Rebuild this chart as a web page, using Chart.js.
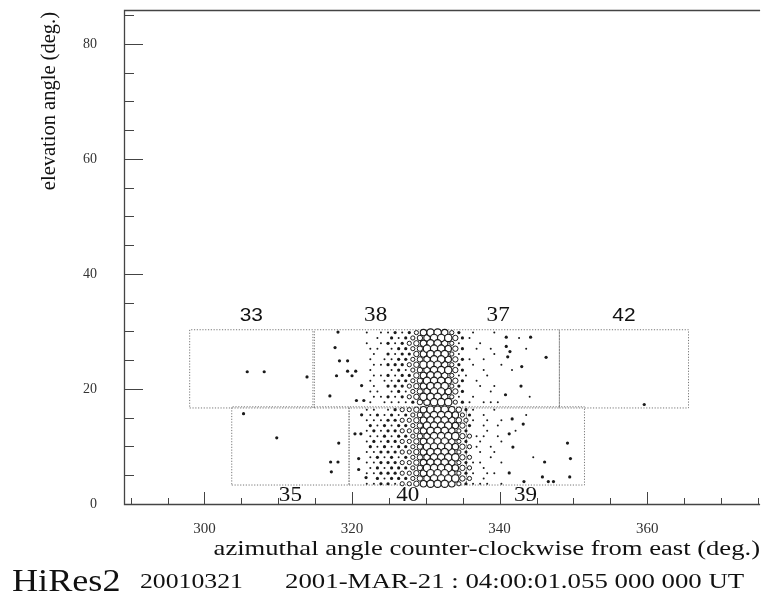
<!DOCTYPE html>
<html>
<head>
<meta charset="utf-8">
<script src="https://cdn.jsdelivr.net/npm/chart.js@4.4.1/dist/chart.umd.min.js"></script>
<style>
  body { margin: 0; background: #fff; }
</style>
</head>
<body>
<canvas id="chart" width="765" height="598"></canvas>
<script>
// tube columns (azimuth, deg); odd rows sit half a column to the right
var colAz = [322.00, 322.96, 323.92, 324.88, 325.84, 326.80, 327.76, 328.72,
             329.68, 330.64, 331.60, 332.56, 333.52, 334.48, 335.44, 336.40,
             337.36, 338.32, 339.28, 340.24, 341.20, 342.16, 343.12, 344.08];

// upper ring (mirrors 33 38 37 42): row elevation, row offset, tube signal 0-6
var upperEl = [29.8, 28.87, 27.94, 27.01, 26.08, 25.15, 24.22, 23.29, 22.36, 21.43, 20.5, 19.57, 18.64, 17.71];
var upperShift = [0, 0.48, 0, 0.48, 0, 0.48, 0, 0.48, 0, 0.48, 0, 0.48, 0, 0.48];
var upperHits = [
  "101121235665320100100000",
  "010212345666421000000100",
  "101212345665310010000000",
  "110122346665420101000010",
  "010212245666310000100000",
  "101122345665421010000000",
  "011222346665320100010000",
  "100121345666420010001000",
  "011212245665311001000000",
  "101122346665420100000000",
  "010222345666320010100000",
  "110121345665420001000000",
  "011212346665310100000001",
  "101111245666321011100000"
];

// lower ring (mirrors 35 40 39)
var lowerEl = [16.4, 15.48, 14.56, 13.64, 12.72, 11.8, 10.88, 9.96, 9.04, 8.12, 7.2, 6.28, 5.36, 4.44, 3.52];
var lowerShift = [0, 0.48, 0, 0.48, 0, 0.48, 0, 0.48, 0, 0.48, 0, 0.48, 0, 0.48, 0];
var lowerHits = [
  "110123345666542100100000",
  "121212345666532010000010",
  "111223345666543101010000",
  "212122346666542010100000",
  "121223345666532001000100",
  "112122345666643110100000",
  "121223345666532010010000",
  "212122346666543101000000",
  "112223345666532010100000",
  "121212345666643001000001",
  "112223345666532110010000",
  "121222346666543010000000",
  "112223345666532101100000",
  "021222345666643010000000",
  "112213345666532111010000"
];

// isolated noise tubes away from the track
var strayAz = [305.8, 308.1, 313.9, 317.7, 318.3, 319.4, 317.9, 319.4, 320.5, 320.0, 317.0, 318.1, 320.6, 321.6, 321.3,
               340.9, 344.2, 340.9, 341.4, 346.3, 341.1, 343.0, 342.9, 340.8, 359.6,
               305.3, 309.8, 318.2, 317.1, 318.1, 317.2,
               321.3, 320.4, 321.2, 320.9, 320.9, 321.9,
               341.7, 343.2, 341.3, 341.8, 349.2, 349.6, 346.1, 341.3, 345.8, 343.3, 346.6, 347.3, 349.5];
var strayEl = [23.0, 23.0, 22.1, 27.2, 24.9, 24.9, 22.3, 23.1, 23.1, 22.3, 18.8, 29.9, 18.0, 18.0, 20.6,
               29.0, 29.0, 27.4, 26.5, 25.5, 25.6, 23.9, 20.5, 19.0, 17.3,
               15.7, 11.5, 10.6, 7.3, 7.3, 5.6,
               15.5, 12.2, 12.2, 7.9, 6.0, 4.6,
               14.8, 13.9, 12.2, 9.9, 10.6, 7.9, 7.3, 5.4, 4.7, 3.9, 3.9, 3.9, 4.7];

// mirror fields of view
var mirrorId    = ["33", "38", "37", "42", "35", "40", "39"];
var mirrorAzMin = [298.0, 314.9, 331.5, 348.1, 303.7, 319.6, 335.5];
var mirrorAzMax = [314.7, 331.5, 348.1, 365.6, 319.6, 335.5, 351.5];
var mirrorElMin = [16.7, 16.7, 16.7, 16.7, 3.3, 3.3, 3.3];
var mirrorElMax = [30.3, 30.3, 30.3, 30.3, 16.9, 16.9, 16.9];

var xTicks = [290, 295, 300, 305, 310, 315, 320, 325, 330, 335, 340, 345, 350, 355, 360, 365, 370, 375];
var yTicks = [0, 5, 10, 15, 20, 25, 30, 35, 40, 45, 50, 55, 60, 65, 70, 75, 80, 85];

// point styles for signal levels 1..6
var levelStyle = [
  null,
  { r: 1.0, fill: true,  w: 0 },
  { r: 1.6, fill: true,  w: 0 },
  { r: 2.1, fill: false, w: 1 },
  { r: 2.7, fill: false, w: 1 },
  { r: 3.2, fill: false, w: 1.1 },
  { r: 3.7, fill: false, w: 1.2 }
];

var byLevel = [[], [], [], [], [], [], []];
function addRing(els, shifts, rows) {
  for (var r = 0; r < rows.length; r++) {
    for (var i = 0; i < rows[r].length; i++) {
      var lv = +rows[r][i];
      if (lv > 0) byLevel[lv].push({ x: colAz[i] + shifts[r], y: els[r] });
    }
  }
}
addRing(upperEl, upperShift, upperHits);
addRing(lowerEl, lowerShift, lowerHits);
for (var s = 0; s < strayAz.length; s++) byLevel[2].push({ x: strayAz[s], y: strayEl[s] });

var datasets = [];
for (var lv = 6; lv >= 1; lv--) {
  var st = levelStyle[lv];
  datasets.push({
    type: 'scatter',
    data: byLevel[lv],
    pointRadius: st.r,
    pointHoverRadius: st.r,
    pointBackgroundColor: st.fill ? '#1a1a1a' : 'rgba(255,255,255,0.9)',
    pointBorderColor: '#1a1a1a',
    pointBorderWidth: st.w,
    order: 0
  });
}
for (var m = 0; m < mirrorId.length; m++) {
  datasets.push({
    type: 'line',
    data: [
      { x: mirrorAzMin[m], y: mirrorElMin[m] },
      { x: mirrorAzMax[m], y: mirrorElMin[m] },
      { x: mirrorAzMax[m], y: mirrorElMax[m] },
      { x: mirrorAzMin[m], y: mirrorElMax[m] },
      { x: mirrorAzMin[m], y: mirrorElMin[m] }
    ],
    borderColor: '#777',
    borderWidth: 1,
    borderDash: [1.2, 1.6],
    pointRadius: 0,
    fill: false,
    order: 1
  });
}

var serif = "'Liberation Serif', 'DejaVu Serif', serif";

// text in this display is set a little wider than the font's natural width
function wideText(ctx, text, x, y, font, stretch, align) {
  ctx.save();
  ctx.font = font;
  ctx.translate(x, y);
  ctx.scale(stretch, 1);
  ctx.textAlign = align || 'left';
  ctx.fillText(text, 0, 0);
  ctx.restore();
}

function noPadding(scale) {
  scale.paddingLeft = 0;
  scale.paddingRight = 0;
  scale.paddingTop = 0;
  scale.paddingBottom = 0;
}

var decor = {
  id: 'decor',
  afterDatasetsDraw: function(chart) {
    var ctx = chart.ctx, sx = chart.scales.x, sy = chart.scales.y;
    ctx.save();
    ctx.fillStyle = '#111';
    ctx.textBaseline = 'middle';
    for (var m = 0; m < mirrorId.length; m++) {
      var cx = sx.getPixelForValue((mirrorAzMin[m] + mirrorAzMax[m]) / 2);
      var upper = mirrorElMin[m] > 10;
      var cy = upper ? sy.getPixelForValue(mirrorElMax[m]) - 14 : sy.getPixelForValue(mirrorElMin[m]) + 10;
      var sans = (mirrorId[m] === "33" || mirrorId[m] === "42");
      var font = sans ? "19px 'Liberation Sans', Arial, sans-serif" : "21px " + serif;
      wideText(ctx, mirrorId[m], cx, cy, font, 1.1, 'center');
    }
    ctx.restore();
  },
  afterDraw: function(chart) {
    var ctx = chart.ctx, a = chart.chartArea, sx = chart.scales.x, sy = chart.scales.y;
    ctx.save();
    ctx.strokeStyle = '#444';
    ctx.lineWidth = 1.3;
    ctx.beginPath();
    ctx.moveTo(a.right, a.top + 0.5);
    ctx.lineTo(a.left + 0.5, a.top + 0.5);
    ctx.lineTo(a.left + 0.5, a.bottom + 0.5);
    ctx.lineTo(a.right, a.bottom + 0.5);
    ctx.stroke();
    ctx.lineWidth = 1;
    ctx.beginPath();
    sx.ticks.forEach(function(t) {
      var px = Math.round(sx.getPixelForValue(t.value)) + 0.5;
      var len = t.value % 20 === 0 ? 12 : 6;
      ctx.moveTo(px, a.bottom);
      ctx.lineTo(px, a.bottom - len);
    });
    sy.ticks.forEach(function(t) {
      var py = Math.round(sy.getPixelForValue(t.value)) + 0.5;
      var len = t.value % 20 === 0 ? 19 : 10;
      ctx.moveTo(a.left, py);
      ctx.lineTo(a.left + len, py);
    });
    ctx.stroke();

    // axis titles
    ctx.fillStyle = '#111';
    ctx.textBaseline = 'alphabetic';
    wideText(ctx, "azimuthal angle counter-clockwise from east (deg.)", 760, 555, "22px " + serif, 1.21, 'right');
    ctx.save();
    ctx.translate(55, 12);
    ctx.rotate(-Math.PI / 2);
    ctx.font = "20.5px " + serif;
    ctx.textAlign = 'right';
    ctx.fillText("elevation angle (deg.)", 0, 0);
    ctx.restore();

    // run / time stamp line
    wideText(ctx, "HiRes2", 12, 591, "32px " + serif, 1.13, 'left');
    wideText(ctx, "20010321", 140, 588, "22px " + serif, 1.17, 'left');
    wideText(ctx, "2001-MAR-21 : 04:00:01.055 000 000 UT", 285, 588, "22px " + serif, 1.22, 'left');
    ctx.restore();
  }
};

var canvas = document.getElementById("chart");
var config = {
  type: 'scatter',
  data: { datasets: datasets },
  options: {
    responsive: false,
    animation: false,
    events: [],
    layout: { padding: { left: 0, top: 10, right: 1, bottom: 0 } },
    plugins: { legend: { display: false }, tooltip: { enabled: false } },
    scales: {
      x: {
        type: 'linear',
        min: 289.1,
        max: 375.3,
        grid: { display: false, drawTicks: false },
        border: { display: false },
        afterBuildTicks: function(scale) { scale.ticks = xTicks.map(function(v) { return { value: v }; }); },
        afterFit: function(scale) { scale.height = 94; noPadding(scale); },
        ticks: {
          autoSkip: false,
          maxRotation: 0,
          padding: 16,
          color: '#333',
          font: { family: serif, size: 15 },
          callback: function(v) { return v % 20 === 0 ? String(v) : ''; }
        }
      },
      y: {
        type: 'linear',
        min: 0,
        max: 85.9,
        grid: { display: false, drawTicks: false },
        border: { display: false },
        afterBuildTicks: function(scale) { scale.ticks = yTicks.map(function(v) { return { value: v }; }); },
        afterFit: function(scale) { scale.width = 124; noPadding(scale); },
        ticks: {
          autoSkip: false,
          padding: 27,
          color: '#333',
          font: { family: serif, size: 14 },
          callback: function(v) { return v % 20 === 0 ? String(v) : ''; }
        }
      }
    }
  },
  plugins: [decor]
};
var chart = new Chart(canvas, config);
</script>
</body>
</html>
